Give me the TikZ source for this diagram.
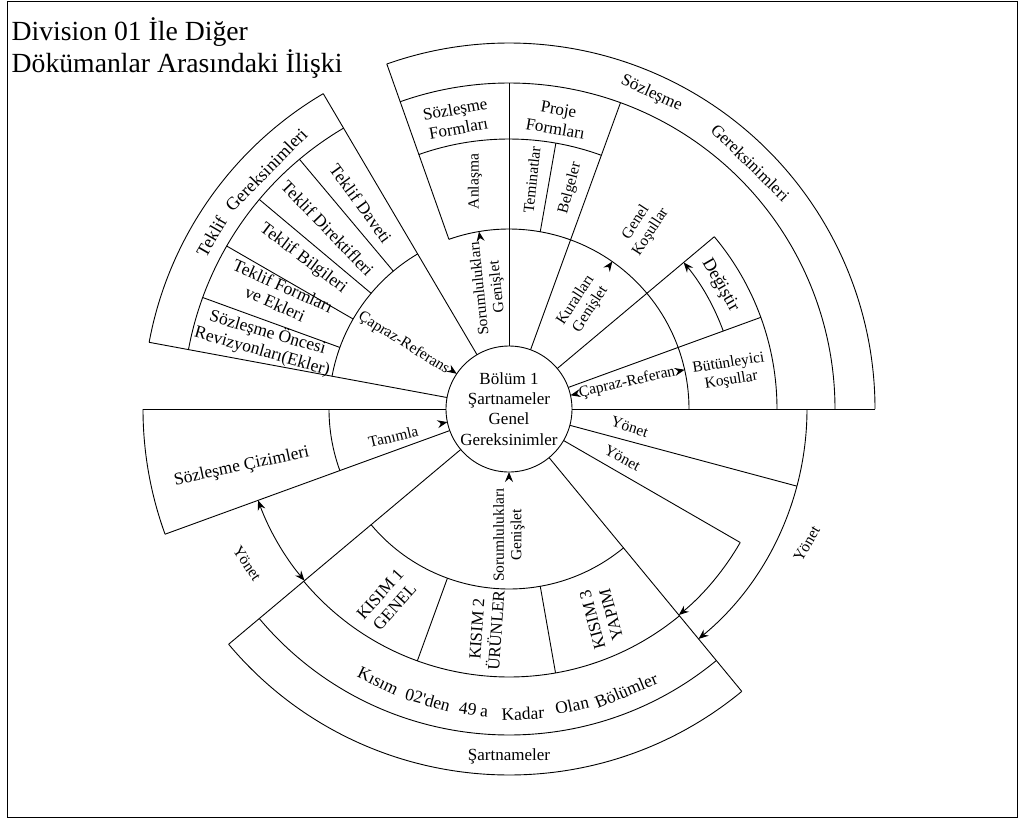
\documentclass[tikz,border=0pt]{standalone}
\usepackage{fontspec}
\setmainfont{Liberation Serif}[Ligatures=TeXOff]
\usetikzlibrary{arrows.meta}
\newcommand{\myray}[3]{\draw[edge] ([shift={(#1:#2pt)}]C) -- ([shift={(#1:#3pt)}]C);}
\newcommand{\myarc}[3]{\draw[edge] ([shift={(#1:#3pt)}]C) arc[start angle=#1,end angle=#2,radius=#3pt];}
\newcommand{\plabel}[6]{\node[#1,rotate=#4] (#6) at ([shift={(#2:#3pt)}]C) {#5};}
\newcommand{\tipcoord}[4]{\coordinate (#1a) at ([shift={(#2:#3pt)}]C);\coordinate (#1b) at ([shift={(#2:#4pt)}]C);}
\begin{document}
\begin{tikzpicture}[x=1pt,y=1pt,
  edge/.style={line width=0.9pt},
  tipA/.style={-{Stealth[length=10pt,width=8pt,inset=3.5pt]},line width=0.9pt},
  tipB/.style={{Stealth[length=10pt,width=8pt,inset=3.5pt]}-{Stealth[length=10pt,width=8pt,inset=3.5pt]},line width=0.9pt},
  fT/.style={font=\fontsize{27.7}{32}\selectfont,inner sep=0pt},
  fA/.style={font=\fontsize{17}{19.5}\selectfont,align=center,inner sep=0pt},
  fB/.style={font=\fontsize{15.5}{17.5}\selectfont,align=center,inner sep=0pt},
  fC/.style={font=\fontsize{18}{20.5}\selectfont,align=center,inner sep=0pt},
  fD/.style={font=\fontsize{17.5}{19.5}\selectfont,align=center,inner sep=0pt},
  core/.style={draw,circle,line width=0.9pt,minimum size=126pt,inner sep=0pt,fill=white,font=\fontsize{17}{20.3}\selectfont,align=center}
]
\useasboundingbox (0,0) rectangle (1021,-820);
\coordinate (C) at (509,-409);
\draw[line width=1pt] (7,-1) rectangle (1017,-817.5);

% title
\node[fT,anchor=base west] (t1) at (11.5,-40.3) {Division 01 İle Diğer};
\node[fT,anchor=base west] (t2) at (11.5,-72.7) {Dökümanlar Arasındaki İlişki};

% contract requirements sector
\myray{0}{63}{366}
\myray{109.5}{180}{366}
\myarc{0}{109.5}{366}
\myarc{0}{109.5}{326}
\myarc{70}{109.5}{270}
\myarc{0}{40}{268}
\myarc{0}{109.5}{180}
\myray{90}{63}{326}
\myray{70}{63}{326}
\myray{80}{180}{270}
\myray{40}{63}{268}
\myray{20}{63}{268}

% bidding requirements sector
\myray{120.5}{63}{366}
\myray{169.5}{63}{366}
\myarc{120.5}{169.5}{366}
\myarc{120.5}{169.5}{326}
\myarc{120.5}{169.5}{180}
\myray{130}{180}{326}
\myray{140}{180}{326}
\myray{150}{180}{326}
\myray{160}{180}{326}

% drawings sector
\myray{180}{63}{366}
\myray{200}{63}{366}
\myarc{180}{200}{366}
\myarc{180}{200}{180}

% specifications sector
\myray{220}{63}{366}
\myray{309.5}{63}{366}
\myarc{220}{309.5}{366}
\myarc{220}{309.5}{326}
\myarc{220}{309.5}{268}
\myarc{220}{309.5}{180}
\myray{250}{180}{268}
\myray{280}{180}{268}

% govern connectors
\myray{-15}{63}{298}
\myray{-30}{63}{267}
\draw[tipA] ([shift={(0:298pt)}]C) arc[start angle=0,end angle=-50.5,radius=298pt];
\draw[tipA] ([shift={(-30:267pt)}]C) arc[start angle=-30,end angle=-50.5,radius=267pt];
\draw[tipB] ([shift={(200:267pt)}]C) arc[start angle=200,end angle=220,radius=267pt];
% modify
\draw[tipA] ([shift={(20:228pt)}]C) arc[start angle=20,end angle=40,radius=228pt];

% centre
\node[core] (core) at (C) {Bölüm 1\\Şartnameler\\Genel\\Gereksinimler};

% arrowheads of labelled connectors
\tipcoord{s1}{99.6}{173}{180}
\tipcoord{k}{55}{173}{180}
\tipcoord{xa}{12.6}{70}{63}
\tipcoord{xb}{12.6}{173}{180}
\tipcoord{xl}{146}{70}{63}
\tipcoord{ta}{192}{70}{63}
\tipcoord{s2}{270}{70}{63}
\draw[tipA] (s1a) -- (s1b);
\draw[tipA] (ka) -- (kb);
\draw[tipA] (xaa) -- (xab);
\draw[tipA] (xba) -- (xbb);
\draw[tipA] (xla) -- (xlb);
\draw[tipA] (taa) -- (tab);
\draw[tipA] (s2a) -- (s2b);

% labels
\plabel{fA}{65.7}{346}{-24.3}{Sözleşme}{cr1}
\plabel{fA}{45.6}{345}{-44.4}{Gereksinimleri}{cr2}
\plabel{fC}{149.9}{344}{59.9}{Teklif}{br1}
\plabel{fC}{135.4}{341}{45.4}{Gereksinimleri}{br2}
\plabel{fA}{100.2}{295}{10}{Sözleşme\\Formları}{cf}
\plabel{fA}{80.6}{294}{-9.5}{Proje\\Formları}{pf}
\plabel{fB}{98.5}{230}{90}{Anlaşma}{ag}
\plabel{fB}{84.3}{230}{84}{Teminatlar}{bo}
\plabel{fB}{74.5}{229}{75}{Belgeler}{ce}
\plabel{fB}{53.5}{226}{57}{Genel\\Koşullar}{gc}
\plabel{fB}{99.5}{123}{96}{Sorumlulukları\\Genişlet}{er1}
\plabel{fB}{54.6}{128}{57}{Kuralları\\Genişlet}{er2}
\plabel{fC}{30.4}{245}{-60}{Değiştir}{mo}
\plabel{fB}{9.5}{224}{9}{Bütünleyici\\Koşullar}{sc}
\plabel{fB}{12.6}{121}{12.6}{Çapraz-Referan}{xr1}
\plabel{fB}{148}{124}{-32}{Çapraz-Referans}{xr2}
\plabel{fB}{193.5}{119}{13.5}{Tanımla}{de}
\plabel{fD}{192.2}{273.5}{12}{Sözleşme Çizimleri}{dw}
\plabel{fD}{125.8}{253.5}{-54}{Teklif Daveti}{b1}
\plabel{fD}{135.1}{256}{-46}{Teklif Direktifleri}{b2}
\plabel{fD}{143.8}{255}{-37}{Teklif Bilgileri}{b3}
\plabel{fD}{153.6}{256.7}{-24}{Teklif Formları\\ve Ekleri}{b4}
\plabel{fD}{164.6}{253}{-16}{Sözleşme Öncesi\\Revizyonları(Ekler)}{b5}
\plabel{fA}{237.6}{227}{48}{KISIM 1\\GENEL}{k1}
\plabel{fA}{264.2}{222}{86}{KISIM 2\\ÜRÜNLER}{k2}
\plabel{fA}{294}{228}{105}{KISIM 3\\YAPIM}{k3}
\plabel{fB}{270}{126}{90}{Sorumlulukları\\Genişlet}{er3}
\plabel{fD}{244.3}{302}{-25.7}{Kısım}{w1}
\plabel{fD}{254.4}{302}{-15.6}{02'den}{w2}
\plabel{fD}{262.2}{303}{-7.8}{49}{w3}
\plabel{fD}{265.3}{305}{-4.7}{a}{w4}
\plabel{fD}{272.6}{305}{2.6}{Kadar}{w5}
\plabel{fD}{282}{303}{12}{Olan}{w6}
\plabel{fD}{292.6}{305}{22.6}{Bölümler}{w7}
\plabel{fA}{270}{347}{0}{Şartnameler}{sp}
\plabel{fB}{335.6}{327}{60}{Yönet}{y1}
\plabel{fB}{-8.5}{122}{-18}{Yönet}{y2}
\plabel{fB}{-23.4}{123.6}{-28}{Yönet}{y3}
\plabel{fB}{210.5}{304}{-56}{Yönet}{y4}
\end{tikzpicture}
\end{document}
